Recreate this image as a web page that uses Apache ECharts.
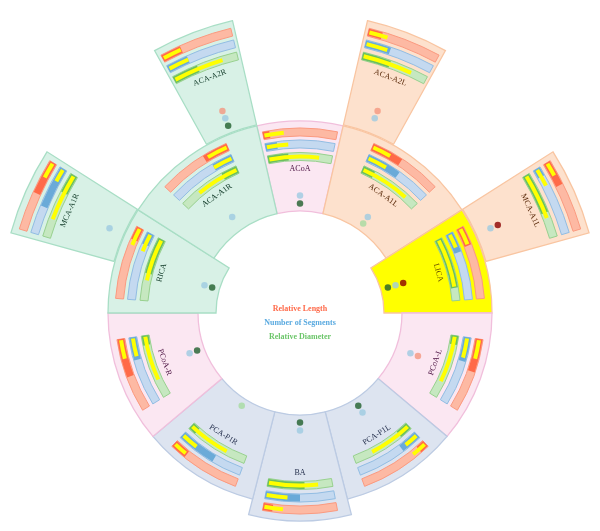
<!DOCTYPE html>
<html><head><meta charset="utf-8">
<script src="https://cdn.jsdelivr.net/npm/echarts@6/dist/echarts.min.js"></script>
<style>html,body{margin:0;padding:0;background:#fff}#c{width:600px;height:531px}</style>
</head><body><div id="c"></div>
<script>
// ---------- DATA ----------
const vessels    = ['ACoA','ACA-A1L','LICA','PCoA-L','PCA-P1L','BA','PCA-P1R','PCoA-R','RICA','ACA-A1R','ACA-A2L','MCA-A1L','MCA-A1R','ACA-A2R'];
const angleStart = [-13, 13, 57.5, 90, 130, 165.7, 194.3, 230, 270, 302.5, 13, 57.5, 285.5, 331];
const angleEnd   = [ 13, 57.5, 90, 130, 165.7, 194.3, 230, 270, 302.5, 347, 29, 74.5, 302.5, 347];
const ring       = ['inner','inner','inner','inner','inner','inner','inner','inner','inner','inner','outer','outer','outer','outer'];
const group      = ['pink','orange','yellow','pink','blue','blue','blue','pink','green','green','orange','orange','green','green'];
const barFrom    = ['low','low','low','low','low','high','high','high','high','high','low','low','high','low'];
// relative length (dark part / yellow part)
const lengthVal  = [0.09,0.43,0.26,0.45,0.12,0.13,0.22,0.52,0.18,0.35,0.19,0.35,0.47,0.28];
const lengthRef  = [0.28,0.27,0.24,0.27,0.22,0.27,0.20,0.27,0.25,0.30,0.27,0.20,0.23,0.27];
// number of segments
const segVal     = [0.17,0.50,0.30,0.35,0.30,0.50,0.57,0.33,0.18,0.30,0.36,0.13,0.60,0.31];
const segRef     = [0.33,0.30,0.22,0.30,0.22,0.32,0.26,0.28,0.28,0.30,0.32,0.27,0.20,0.31];
// relative diameter
const diamVal    = [0.32,0.19,0.80,0.14,0.20,0.57,0.12,0.15,0.57,0.25,0.42,0.62,0.30,0.39];
const diamRef    = [0.80,0.80,0.78,0.75,0.70,0.78,0.68,0.72,0.68,0.70,0.76,0.70,0.72,0.77];
// marker dots
const diamDot    = ['dark','light','dark',null,'dark','dark','light','dark','dark',null,null,null,null,'dark'];
const segDot     = [true,true,true,true,true,true,false,true,true,true,true,true,true,true];
const lenDot     = [null,null,'darkred','salmon',null,null,null,null,null,null,'salmon','darkred',null,'salmon'];
const legendLabels = ['Relative Length','Number of Segments','Relative Diameter'];

// ---------- LAYOUT / STYLE ----------
const LAYOUT = {
  inner:{r0:102, r1:192}, outer:{r0:193, r1:300},
  special:{ 'LICA':{r0:84}, 'RICA':{r0:84}, 'BA':{r1:208} },
  barOffsets:[11, 23, 35.5], barThick:8, yellowThick:4, labelOffset:48,
  dotOffsets:[7.5, 15.5, 23.5], barLenPx:74
};
const GROUP_STYLE = {
  pink:  {fill:'#fbe7f2', stroke:'#f1bfdc', text:'#4a1040'},
  orange:{fill:'#fde1cd', stroke:'#f9c5a1', text:'#5a2a0a'},
  yellow:{fill:'#ffff00', stroke:'#f9c5a1', text:'#6b5200'},
  blue:  {fill:'#dde4f0', stroke:'#bccbe3', text:'#1f2a48'},
  green: {fill:'#d8f1e6', stroke:'#a8dec5', text:'#17402e'}
};
const BAR_STYLE = [
  {bg:'#fdb9a3', stroke:'#fb9a80', dark:'#ff6a48', legend:'#ff6a4a'},
  {bg:'#c4d9f0', stroke:'#92bde3', dark:'#6aaad8', legend:'#5aaae0'},
  {bg:'#c6e8c0', stroke:'#98d18f', dark:'#6bbf5f', legend:'#6cc66a'}
];
const DOT_COLORS = {dark:'#1f5f2c', light:'#a6dba0', seg:'#9ecae1', salmon:'#f4977f', darkred:'#8b0000'};

function radii(i){
  const base = LAYOUT[ring[i]];
  const sp = LAYOUT.special[vessels[i]] || {};
  return {r0: sp.r0 != null ? sp.r0 : base.r0, r1: sp.r1 != null ? sp.r1 : base.r1};
}
function helpers(api){
  const c = api.coord([0,0]);
  const R = r => { const p = api.coord([r,0]); return Math.hypot(p[0]-c[0], p[1]-c[1]); };
  const A = a => { const p = api.coord([100,a]); return Math.atan2(p[1]-c[1], p[0]-c[0]); };
  const arc = (r0, r1, a0, a1, style) => {
    let s = A(a0), e = A(a1);
    while (e < s) e += 2*Math.PI;
    return {type:'sector', shape:{cx:c[0], cy:c[1], r0:R(r0), r:R(r1), startAngle:s, endAngle:e, clockwise:true}, style};
  };
  return {c, R, A, arc};
}
const idxData = vessels.map((v,i)=>[0,0,i]);

const barSets = [[lengthVal,lengthRef],[segVal,segRef],[diamVal,diamRef]];
function barSeries(m){
  return {
    type:'custom', name:legendLabels[m], coordinateSystem:'polar', z:3,
    encode:{radius:0, angle:1}, data:idxData, silent:true,
    renderItem:(params, api)=>{
      const i = api.value(2);
      const h = helpers(api);
      const {r1} = radii(i);
      const rc = r1 - LAYOUT.barOffsets[m];
      const rcPx = h.R(rc);
      const len = LAYOUT.barLenPx / h.R(r1 - LAYOUT.barOffsets[0]) * 180/Math.PI;
      const mid = (angleStart[i] + angleEnd[i]) / 2;
      const a0 = mid - len/2, a1 = mid + len/2;
      const fv = barSets[m][0][i], fr = barSets[m][1][i];
      const inset = 1.2 / rcPx * 180/Math.PI;
      const st = BAR_STYLE[m];
      const t = LAYOUT.barThick/2, ty = LAYOUT.yellowThick/2;
      let dark, yel;
      if (barFrom[i] === 'low') {
        dark = [a0, a0 + fv*len]; yel = [a0 + inset, a0 + fr*len];
      } else {
        dark = [a1 - fv*len, a1]; yel = [a1 - fr*len, a1 - inset];
      }
      return {type:'group', children:[
        h.arc(rc-t, rc+t, a0, a1, {fill:st.bg, stroke:st.stroke, lineWidth:1}),
        h.arc(rc-t+0.5, rc+t-0.5, dark[0], dark[1], {fill:st.dark}),
        h.arc(rc-ty, rc+ty, yel[0], yel[1], {fill:'#ffff00'})
      ]};
    }
  };
}

const dotData = [];
vessels.forEach((v,i)=>{
  const {r0} = radii(i);
  const mid = (angleStart[i] + angleEnd[i]) / 2;
  if (diamDot[i]) dotData.push({value:[r0 + LAYOUT.dotOffsets[0], mid], itemStyle:{color:DOT_COLORS[diamDot[i]]}});
  if (segDot[i]) dotData.push({value:[r0 + LAYOUT.dotOffsets[1], mid], itemStyle:{color:DOT_COLORS.seg}});
  if (lenDot[i]) dotData.push({value:[r0 + LAYOUT.dotOffsets[2], mid], itemStyle:{color:DOT_COLORS[lenDot[i]]}});
});

const option = {
  backgroundColor:'#ffffff',
  animation:false,
  polar:{center:[300,313], radius:300},
  angleAxis:{type:'value', min:0, max:360, startAngle:90, clockwise:true, show:false},
  radiusAxis:{type:'value', min:0, max:300, show:false},
  series:[
    {
      type:'custom', name:'sectors', coordinateSystem:'polar', z:1, silent:true,
      encode:{radius:0, angle:1}, data:idxData,
      renderItem:(params, api)=>{
        const i = api.value(2);
        const h = helpers(api);
        const {r0, r1} = radii(i);
        const gs = GROUP_STYLE[group[i]];
        return h.arc(r0, r1, angleStart[i], angleEnd[i], {fill:gs.fill, stroke:gs.stroke, lineWidth:1.3});
      }
    },
    barSeries(0), barSeries(1), barSeries(2),
    {
      type:'custom', name:'labels', coordinateSystem:'polar', z:4, silent:true,
      encode:{radius:0, angle:1}, data:idxData,
      renderItem:(params, api)=>{
        const i = api.value(2);
        const {r1} = radii(i);
        const rl = r1 - LAYOUT.labelOffset;
        const mid = (angleStart[i] + angleEnd[i]) / 2;
        const p = api.coord([rl, mid]);
        const p1 = api.coord([rl, mid-0.5]), p2 = api.coord([rl, mid+0.5]);
        let dir = Math.atan2(p2[1]-p1[1], p2[0]-p1[0]);
        if (Math.cos(dir) < -0.01) dir += Math.PI;
        return {type:'text', x:p[0], y:p[1], rotation:-dir,
          style:{text:vessels[i], fill:GROUP_STYLE[group[i]].text, font:"8px 'Liberation Serif', serif", align:'center', verticalAlign:'middle'}};
      }
    },
    {
      type:'scatter', name:'markers', coordinateSystem:'polar', z:5, silent:true,
      symbolSize:6.5, data:dotData
    }
  ],
  graphic: legendLabels.map((t,k)=>({
    type:'text', x:300, y:309 + k*14, z:10,
    style:{text:t, fill:BAR_STYLE[k].legend, font:"bold 8px 'Liberation Serif', serif", align:'center', verticalAlign:'middle'}
  }))
};
const chart = echarts.init(document.getElementById('c'), null, {renderer:'canvas'});
chart.setOption(option);
</script></body></html>
